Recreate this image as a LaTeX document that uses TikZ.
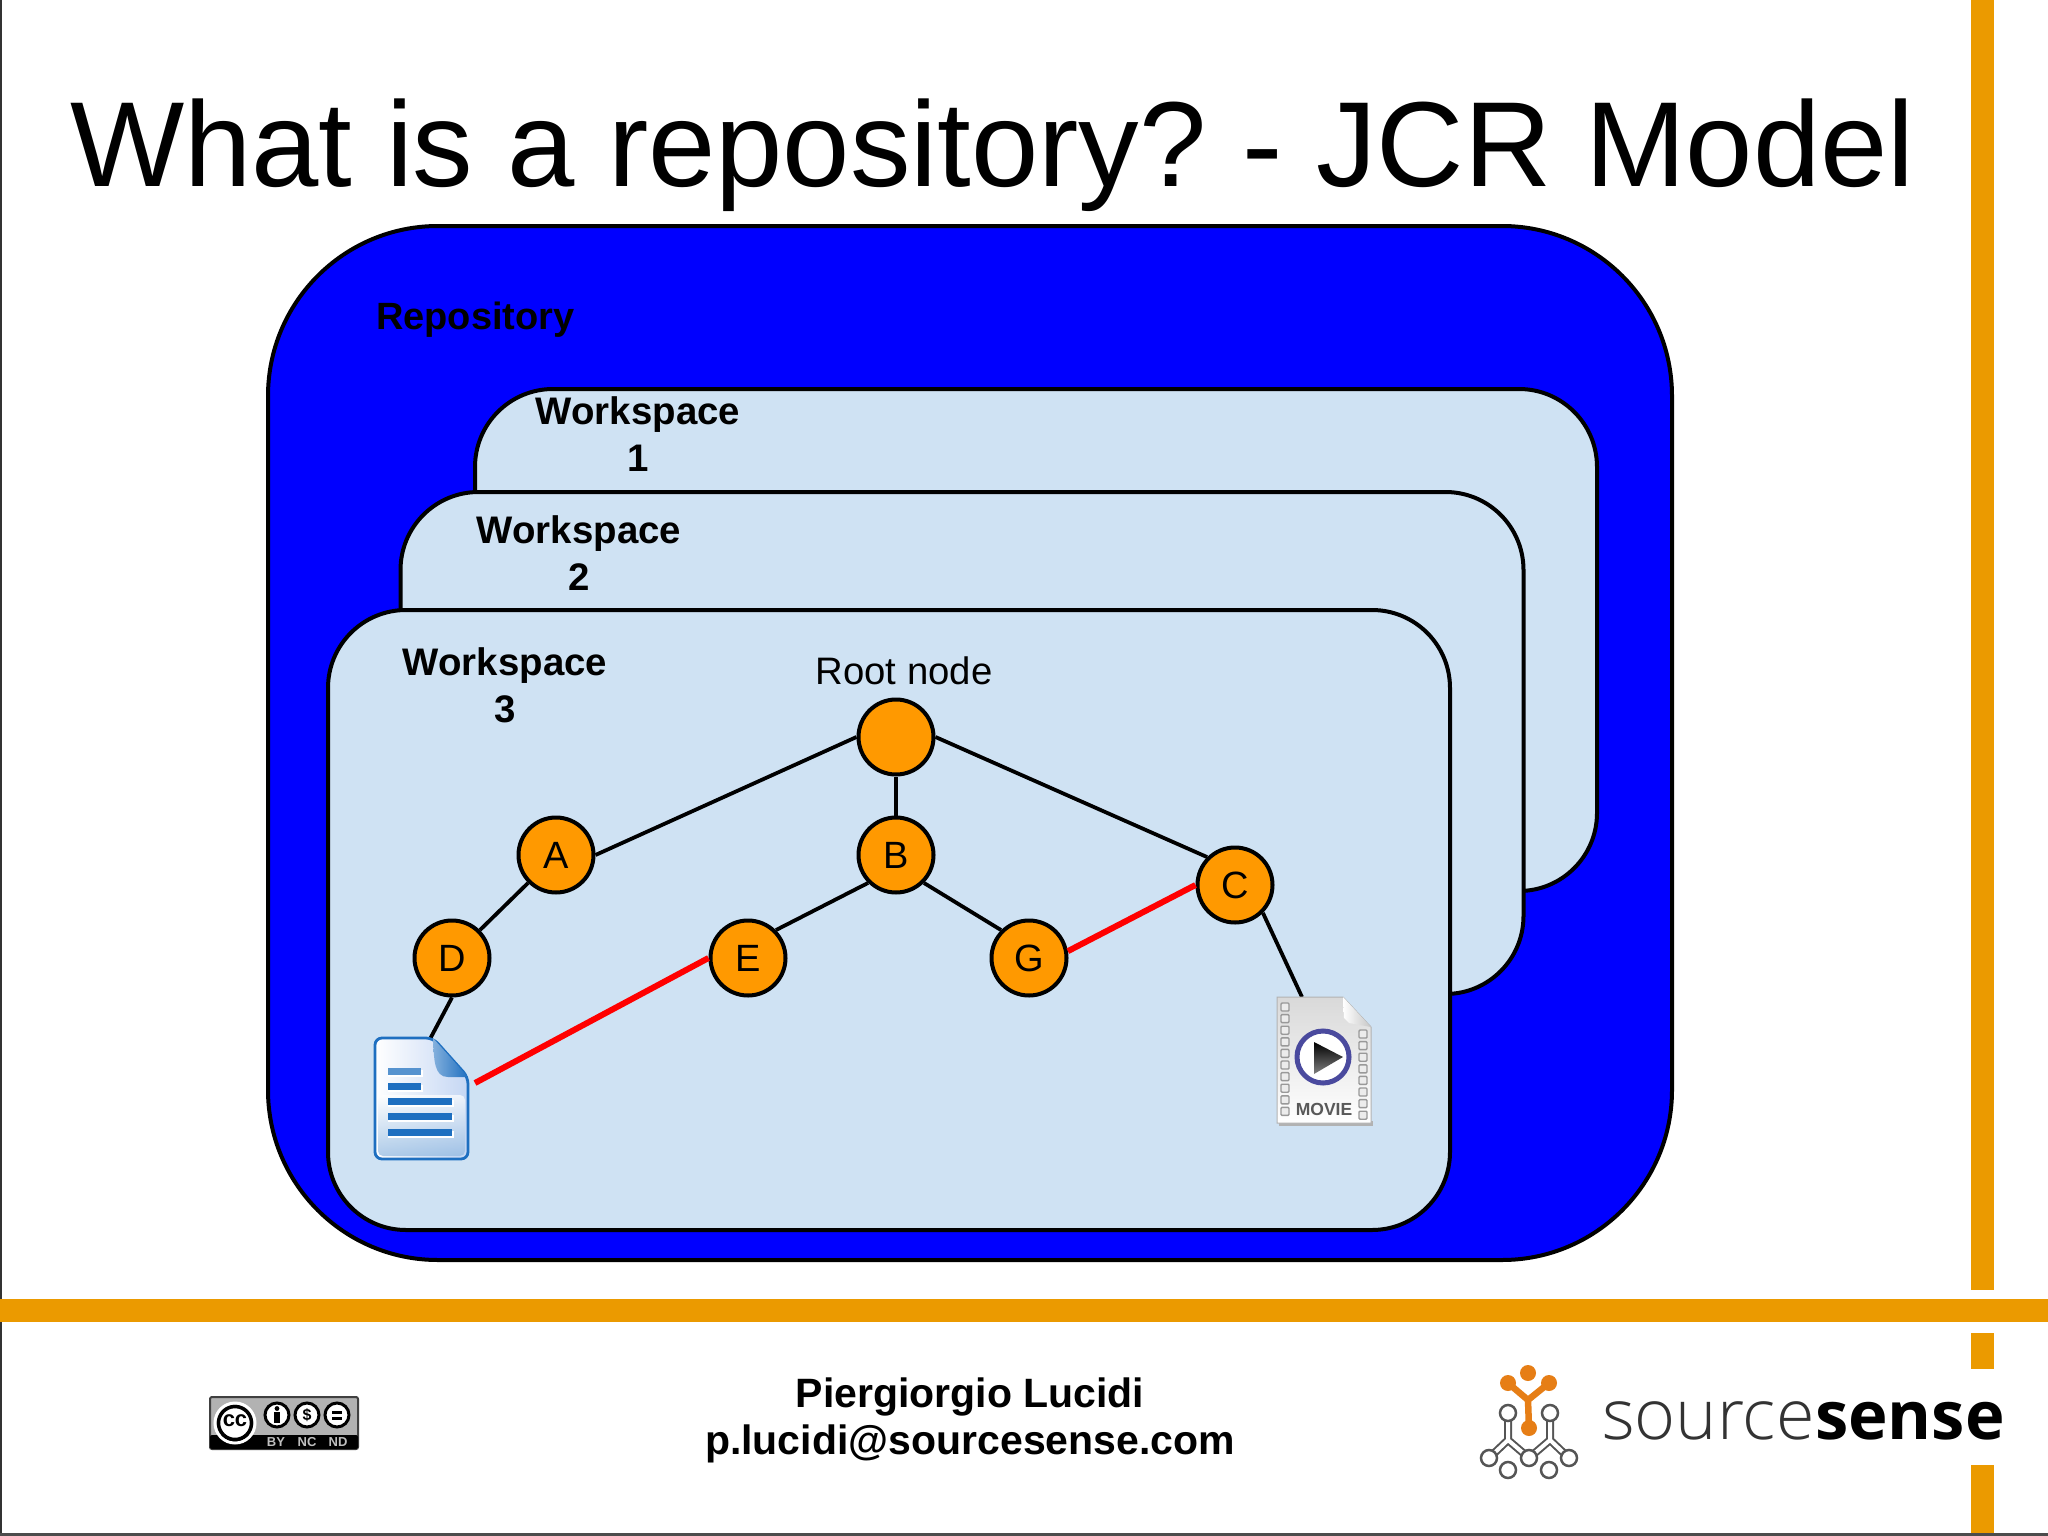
\documentclass[tikz,border=0pt]{standalone}
\usepackage{fontspec}
\setmainfont{Liberation Sans}
\newfontfamily\logolight[UprightFont=* Light]{Open Sans}
\newfontfamily\logobold{Open Sans}
\definecolor{barorange}{HTML}{EB9A00}
\definecolor{nodeorange}{HTML}{FF9900}
\definecolor{wsblue}{HTML}{CFE2F3}
\definecolor{logoorange}{HTML}{E67E16}
\definecolor{logogrey}{HTML}{555555}
\definecolor{docblue}{HTML}{1E6FC0}
\definecolor{ringblue}{HTML}{4A4A9E}
\tikzset{
  reposbox/.style={draw, line width=4pt, fill=blue, rounded corners=170pt, inner sep=0pt},
  wsbox/.style={draw, line width=4pt, fill=wsblue, rounded corners=78pt, inner sep=0pt},
  wslabel/.style={font=\fontsize{38.4}{47}\selectfont\bfseries, align=center, inner sep=0pt},
  treenode/.style={draw, circle, line width=4pt, fill=nodeorange, minimum size=75pt, inner sep=0pt,
    font=\fontsize{38}{38}\selectfont},
  treeline/.style={line width=3.8pt},
  redline/.style={line width=6pt, red},
  hole/.style={draw=gray!80, line width=1.4pt, fill=gray!15, rounded corners=1pt},
  greyring/.style={draw=logogrey, line width=2.5pt, fill=white},
}
\begin{document}
\begin{tikzpicture}[x=1pt, y=-1pt]
\useasboundingbox (0,0) rectangle (2048,1536);
\fill[white] (0,0) rectangle (2048,1536);

% slide frame
\fill[black!80] (0,0) rectangle (2,1533);
\fill[black!70] (0,1533) rectangle (2048,1536);
\fill[barorange] (1971,0) rectangle (1994,1290);
\fill[barorange] (0,1299) rectangle (2048,1322);
\fill[barorange] (1971,1333) rectangle (1994,1369);
\fill[barorange] (1971,1465) rectangle (1994,1533);

\node[anchor=base west, inner sep=0pt, font=\fontsize{121}{121}\selectfont] (title) at (70,186)
  {What is a repository?\hspace{-9pt} - JCR Model};

% the boxes
\node[reposbox, minimum width=1404pt, minimum height=1034pt] (repo) at (970,743) {};
\node[wsbox, minimum width=1122pt, minimum height=502pt] (ws1) at (1036,640) {};
\node[wsbox, minimum width=1123pt, minimum height=502pt] (ws2) at (962,743) {};
\node[wsbox, minimum width=1122pt, minimum height=620pt] (ws3) at (889,920) {};

\node[anchor=base west, inner sep=0pt, font=\fontsize{38}{38}\selectfont\bfseries] (repolabel) at (376,329) {Repository};
\node[wslabel] (ws1label) at (638,434.5) {Workspace\\1};
\node[wslabel] (ws2label) at (579,553) {Workspace\\2};
\node[wslabel] (ws3label) at (505,685.5) {Workspace\\3};

% the tree
\node[inner sep=0pt, font=\fontsize{38.3}{38}\selectfont] (rootlabel) at (904,671) {Root node};
\node[treenode] (root) at (896,737) {};
\node[treenode] (A) at (556,855) {A};
\node[treenode] (B) at (896,855) {B};
\node[treenode] (C) at (1235,885) {C};
\node[treenode] (D) at (452,958) {D};
\node[treenode] (E) at (748,958) {E};
\node[treenode] (G) at (1029,958) {G};
\coordinate (doctop) at (430,1039);
\coordinate (docside) at (475,1083);
\coordinate (movietop) at (1302,997);

\draw[treeline] (root.west) -- (A.east);
\draw[treeline] (root) -- (B);
\draw[treeline] (root.east) -- (C.north west);
\draw[treeline] (A.south west) -- (D.north east);
\draw[treeline] (B.south west) -- (E.north east);
\draw[treeline] (B.south east) -- (G.north west);
\draw[treeline] (D.south) -- (doctop);
\draw[treeline] (C.south east) -- (movietop);
\draw[redline] (E.west) -- (docside);
\draw[redline] (G.10) -- (C.west);

% document icon
\shade[left color=white, right color=blue!5!wsblue, draw=docblue, line width=2.8pt, rounded corners=7pt]
  (375,1038) -- (433,1038) -- (468,1077) -- (468,1159) -- (375,1159) -- cycle;
\shade[top color=white, bottom color=docblue!50, opacity=.7, rounded corners=5pt]
  (378,1095) -- (465,1095) -- (465,1156) -- (378,1156) -- cycle;
\shade[left color=docblue!55, right color=docblue] (433,1038) .. controls (434,1060) and (434,1077) .. (448,1077) -- (468,1077) -- cycle;
\foreach \y/\w in {1068/421, 1083/421, 1098/452, 1113/452, 1129/452}
{
  \fill[white] (388,\y+2) rectangle (\w+2,\y+9);
  \fill[docblue] (388,\y) rectangle (\w,\y+7);
}
\fill[white, opacity=.25] (388,1068) rectangle (421,1075);

% movie icon
\fill[gray!60] (1279,1121) rectangle (1373,1126);
\shade[top color=gray!30, bottom color=white, draw=gray!60, line width=1pt]
  (1277,997) -- (1343,997) -- (1371,1027) -- (1371,1123) -- (1277,1123) -- cycle;
\shade[left color=white, right color=gray!45] (1343,997) -- (1344,1018) -- (1349,1023) -- (1371,1027) -- cycle;
\foreach \n in {0,...,9}
  \draw[hole] (1281,1003+\n*11.6) rectangle (1289,1011+\n*11.6);
\foreach \n in {0,...,7}
  \draw[hole] (1359,1030+\n*11.6) rectangle (1367,1038+\n*11.6);
\draw[draw=ringblue, line width=5pt, fill=white] (1323,1057) circle (26);
\shade[top color=black, bottom color=gray, draw=none] (1314,1042) -- (1343,1057) -- (1314,1074) -- cycle;
\node[inner sep=0pt, text=black!65, font=\fontsize{17.5}{17}\selectfont\bfseries] (movielabel) at (1324,1109) {MOVIE};

% licence badge
\fill[black!30, draw=black!75, line width=2pt, rounded corners=2pt] (210,1397) rectangle (358,1449);
\fill[black, rounded corners=2pt] (210,1435) rectangle (358,1449);
\draw[white, line width=3pt] (235,1423) circle (20);
\draw[black, line width=3.5pt, fill=white] (235,1423) circle (16.5);
\node[inner sep=0pt, font=\fontsize{22}{22}\selectfont\bfseries] (cclabel) at (235,1421) {cc};
\foreach \x in {277,307,337}
  \draw[black, line width=3pt, fill=white] (\x,1415) circle (12);
\fill (277,1408.5) circle (2.4);
\fill[black] (274,1412) rectangle (280,1423);
\node[inner sep=0pt, font=\fontsize{16}{16}\selectfont\bfseries] (nclabel) at (307,1415) {\$};
\fill[black] (332,1410.5) rectangle (342,1413.5);
\fill[black] (332,1416.5) rectangle (342,1419.5);
\foreach \x/\t in {276/BY, 307/NC, 338/ND}
  \node[inner sep=0pt, text=black!25, font=\fontsize{13}{13}\selectfont\bfseries] (lic\t) at (\x,1442) {\t};

% footer
\node[anchor=base, inner sep=0pt, font=\fontsize{41}{41}\selectfont\bfseries] (author) at (970,1407) {Piergiorgio Lucidi};
\node[anchor=base, inner sep=0pt, font=\fontsize{41}{41}\selectfont\bfseries] (mail) at (970,1454) {p.lucidi@sourcesense.com};

% logo
\draw[logogrey, double=white, double distance=4pt, line width=2pt, line join=round]
  (1489,1458) -- (1508,1440) -- (1529,1458) -- (1550,1440) -- (1569,1458)
  (1508,1413) -- (1508,1440)
  (1550,1413) -- (1550,1440);
\foreach \x/\y in {1508/1413, 1550/1413, 1489/1458, 1569/1458, 1529/1458, 1508/1470, 1549/1470}
  \draw[greyring] (\x,\y) circle (8);
\draw[logoorange, line width=6.5pt] (1508,1383) -- (1528,1400) -- (1549,1383) (1528,1400) -- (1529,1428);
\foreach \x/\y in {1528/1373, 1508/1383, 1549/1383, 1529/1428}
  \fill[logoorange] (\x,\y) circle (8);
\node[anchor=base west, inner sep=0pt, text=black!80, font=\fontsize{70}{70}\selectfont\logolight] (logotext) at (1602,1439) {source};
\node[anchor=base west, inner sep=0pt, font=\fontsize{67}{67}\selectfont\logobold\bfseries] (logotext2) at (logotext.base east) {sense};
\end{tikzpicture}
\end{document}
